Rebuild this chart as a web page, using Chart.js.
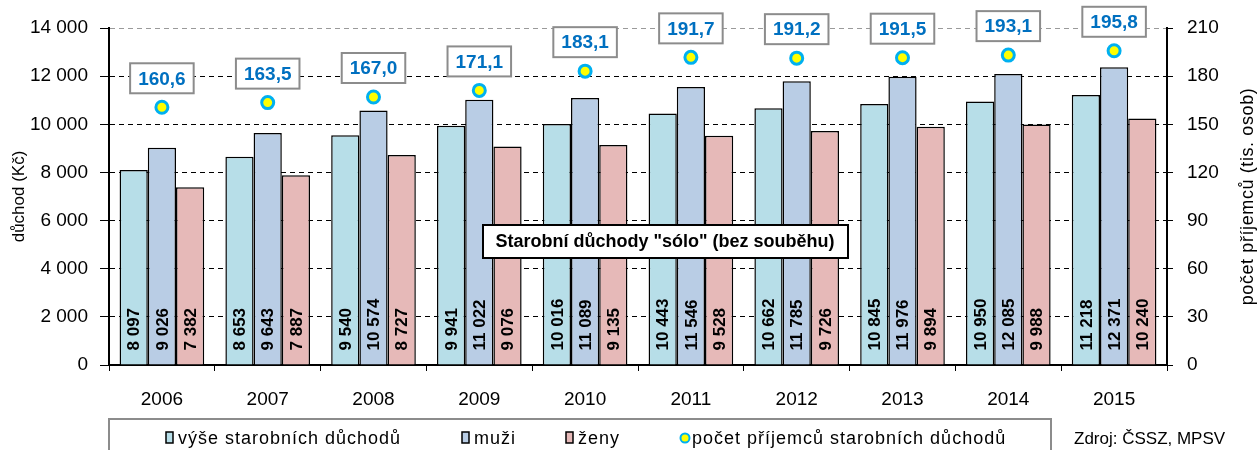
<!DOCTYPE html>
<html lang="cs">
<head>
<meta charset="utf-8">
<title>Starobní důchody "sólo"</title>
<script src="https://cdn.jsdelivr.net/npm/chart.js@4.4.1/dist/chart.umd.min.js"></script>
<style>
  html, body { margin: 0; padding: 0; background: #fff; }
  #wrap { position: relative; width: 1260px; height: 450px; }
</style>
</head>
<body>
<div id="wrap"><canvas id="pensionChart" width="1260" height="450"></canvas></div>
<script>
const years = ["2006", "2007", "2008", "2009", "2010", "2011", "2012", "2013", "2014", "2015"];
const avgPension = [8097, 8653, 9540, 9941, 10016, 10443, 10662, 10845, 10950, 11218];
const menPension = [9026, 9643, 10574, 11022, 11089, 11546, 11785, 11976, 12085, 12371];
const womenPension = [7382, 7887, 8727, 9076, 9135, 9528, 9726, 9894, 9988, 10240];
const recipients = [160.6, 163.5, 167.0, 171.1, 183.1, 191.7, 191.2, 191.5, 193.1, 195.8];
const pensionTicks = [0, 2000, 4000, 6000, 8000, 10000, 12000, 14000];
const recipientTicks = [0, 30, 60, 90, 120, 150, 180, 210];

const FONT = '"Liberation Sans", Arial, sans-serif';
const chartTitle = 'Starobní důchody "sólo" (bez souběhu)';
const rightAxisTitle = "počet příjemců (tis. osob)";
const sourceNote = "Zdroj: ČSSZ, MPSV";

const fmtThousands = (v) => String(v).replace(/\B(?=(\d{3})+(?!\d))/g, " ");
const fmtDecimal = (v) => v.toFixed(1).replace(".", ",");

// values written upwards inside each bar, starting just above the axis
const barValueLabels = {
  id: "barValueLabels",
  afterDatasetsDraw(chart) {
    const ctx = chart.ctx;
    ctx.save();
    ctx.font = "bold 17px " + FONT;
    ctx.fillStyle = "#000";
    ctx.textAlign = "left";
    ctx.textBaseline = "middle";
    [0, 1, 2].forEach((di) => {
      const meta = chart.getDatasetMeta(di);
      meta.data.forEach((bar, i) => {
        const { x, base } = bar.getProps(["x", "base"], true);
        ctx.save();
        ctx.translate(x + 1, base - 14);
        ctx.rotate(-Math.PI / 2);
        ctx.fillText(fmtThousands(chart.data.datasets[di].data[i]), 0, 0);
        ctx.restore();
      });
    });
    ctx.restore();
  },
};

// boxed number of recipients above each point
const pointValueLabels = {
  id: "pointValueLabels",
  afterDatasetsDraw(chart) {
    const ctx = chart.ctx;
    const meta = chart.getDatasetMeta(3);
    ctx.save();
    ctx.font = "bold 19px " + FONT;
    ctx.textAlign = "center";
    ctx.textBaseline = "middle";
    meta.data.forEach((pt, i) => {
      const text = fmtDecimal(recipients[i]);
      const w = ctx.measureText(text).width + 16;
      const h = 30;
      const cy = pt.y - 29;
      ctx.fillStyle = "#fff";
      ctx.fillRect(pt.x - w / 2, cy - h / 2, w, h);
      ctx.strokeStyle = "#8c8c8c";
      ctx.lineWidth = 2;
      ctx.strokeRect(pt.x - w / 2, cy - h / 2, w, h);
      ctx.fillStyle = "#0070c0";
      ctx.fillText(text, pt.x, cy + 1);
    });
    ctx.restore();
  },
};

// title box in the plot, right axis title, legend box and source note
const extras = {
  id: "extras",
  afterDraw(chart) {
    const ctx = chart.ctx;
    const area = chart.chartArea;
    ctx.save();

    // title
    ctx.fillStyle = "#fff";
    ctx.fillRect(483, 225, 365, 33);
    ctx.strokeStyle = "#000";
    ctx.lineWidth = 2;
    ctx.strokeRect(483, 225, 365, 33);
    ctx.fillStyle = "#000";
    ctx.font = "bold 18px " + FONT;
    ctx.textAlign = "center";
    ctx.textBaseline = "middle";
    ctx.fillText(chartTitle, 665, 242);

    // right axis title, reading bottom to top
    ctx.save();
    ctx.translate(1248, (area.top + area.bottom) / 2);
    ctx.rotate(-Math.PI / 2);
    ctx.font = "18px " + FONT;
    ctx.letterSpacing = "0.6px";
    ctx.fillText(rightAxisTitle, 0, 0);
    ctx.restore();

    // legend
    ctx.strokeStyle = "#8c8c8c";
    ctx.lineWidth = 2;
    ctx.strokeRect(109, 419, 942, 40);
    ctx.font = "18px " + FONT;
    ctx.textAlign = "left";
    const items = [
      { ds: 0, x: 166 },
      { ds: 1, x: 462 },
      { ds: 2, x: 566 },
      { ds: 3, x: 680 },
    ];
    items.forEach((it) => {
      const ds = chart.data.datasets[it.ds];
      if (it.ds < 3) {
        ctx.fillStyle = ds.backgroundColor;
        ctx.fillRect(it.x, 432, 7, 11);
        ctx.strokeStyle = "#000";
        ctx.lineWidth = 1.5;
        ctx.strokeRect(it.x, 432, 7, 11);
      } else {
        ctx.beginPath();
        ctx.arc(it.x + 5, 438, 4.5, 0, Math.PI * 2);
        ctx.fillStyle = ds.pointBackgroundColor;
        ctx.fill();
        ctx.strokeStyle = ds.pointBorderColor;
        ctx.lineWidth = 2;
        ctx.stroke();
      }
      ctx.fillStyle = "#000";
      ctx.letterSpacing = "1px";
      ctx.fillText(ds.label, it.x + 12, 439);
      ctx.letterSpacing = "0px";
    });

    // source
    ctx.font = "17px " + FONT;
    ctx.fillText(sourceNote, 1074, 439);
    ctx.restore();
  },
};

const tickFont = { family: FONT, size: 19 };

new Chart(document.getElementById("pensionChart").getContext("2d"), {
  type: "bar",
  data: {
    labels: years,
    datasets: [
      {
        label: "výše starobních důchodů",
        data: avgPension,
        backgroundColor: "#b7dee8",
        borderColor: "#000",
        borderWidth: 1.5,
        yAxisID: "y",
        order: 1,
      },
      {
        label: "muži",
        data: menPension,
        backgroundColor: "#b9cde5",
        borderColor: "#000",
        borderWidth: 1.5,
        yAxisID: "y",
        order: 1,
      },
      {
        label: "ženy",
        data: womenPension,
        backgroundColor: "#e6b9b8",
        borderColor: "#000",
        borderWidth: 1.5,
        yAxisID: "y",
        order: 1,
      },
      {
        type: "line",
        label: "počet příjemců starobních důchodů",
        data: recipients,
        showLine: false,
        yAxisID: "y1",
        pointRadius: 6,
        pointBorderWidth: 3,
        pointBackgroundColor: "#ffff00",
        pointBorderColor: "#00b0f0",
        order: 0,
      },
    ],
  },
  options: {
    responsive: false,
    animation: false,
    devicePixelRatio: 1,
    categoryPercentage: 0.8,
    barPercentage: 1.0,
    layout: { padding: { top: 28, left: 0, right: 0, bottom: 0 } },
    plugins: {
      legend: { display: false },
      tooltip: { enabled: false },
    },
    scales: {
      x: {
        offset: true,
        afterFit: (scale) => { scale.height = 85; },
        grid: { drawOnChartArea: false, offset: true, color: "#000", tickLength: 6 },
        border: { color: "#000", width: 2 },
        ticks: { color: "#000", font: tickFont, padding: 17, maxRotation: 0 },
      },
      y: {
        position: "left",
        min: 0,
        max: 14000,
        afterFit: (scale) => { scale.width = 109; },
        afterBuildTicks: (scale) => { scale.ticks = pensionTicks.map((v) => ({ value: v })); },
        grid: {
          color: (c) => (c.tick && c.tick.value === 14000 ? "#9a9a9a" : "#000"),
          tickColor: "#000",
          tickLength: 9,
          lineWidth: 1,
        },
        border: { color: "#000", width: 2, dash: [5, 4] },
        ticks: { color: "#000", font: tickFont, padding: 12, callback: (v) => fmtThousands(v) },
        title: {
          display: true,
          text: "důchod (Kč)",
          color: "#000",
          font: { family: FONT, size: 17 },
          padding: { top: 9, bottom: 0 },
        },
      },
      y1: {
        position: "right",
        min: 0,
        max: 210,
        afterFit: (scale) => { scale.width = 93; },
        afterBuildTicks: (scale) => { scale.ticks = recipientTicks.map((v) => ({ value: v })); },
        grid: { drawOnChartArea: false, color: "#000", tickLength: 6 },
        border: { color: "#000", width: 2 },
        ticks: { color: "#000", font: tickFont, padding: 14 },
      },
    },
  },
  plugins: [barValueLabels, pointValueLabels, extras],
});
</script>
</body>
</html>
